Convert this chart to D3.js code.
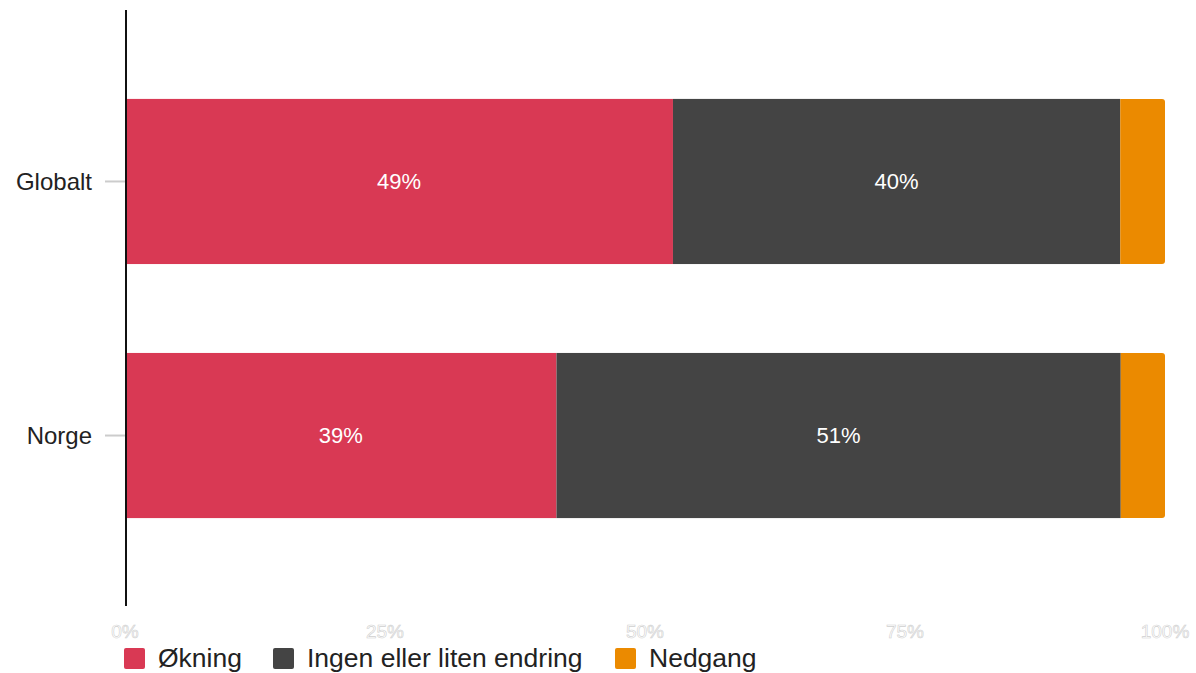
<!DOCTYPE html>
<html lang="no">
<head>
<meta charset="UTF-8">
<title>Stacked bars</title>
<script src="https://d3js.org/d3.v7.min.js"></script>
<style>
  body { margin: 0; background: #fff; }
  svg { display: block; font-family: "Liberation Sans", Arial, sans-serif; }
</style>
</head>
<body>
<svg id="chart" width="1196" height="673"></svg>
<script>
const categories = ["Globalt", "Norge"];
const seriesNames = ["Økning", "Ingen eller liten endring", "Nedgang"];
const okning = [49, 39];
const ingen = [40, 51];
const nedgang = [4, 4];
const tickLabels = ["0%", "25%", "50%", "75%", "100%"];
const colors = ["#d93954", "#444444", "#eb8a00"];

const svg = d3.select("#chart");
const rows = categories.map((c, i) => ({ cat: c, "Økning": okning[i], "Ingen eller liten endring": ingen[i], "Nedgang": nedgang[i] }));

const stack = d3.stack().keys(seriesNames).offset(d3.stackOffsetExpand);
const series = stack(rows);

const x = d3.scaleLinear().domain([0, 1]).range([125, 1165]);
const y = d3.scaleBand().domain(categories).range([10, 607]).padding(0.35);
const color = d3.scaleOrdinal().domain(seriesNames).range(colors);

// bars
series.forEach((s, si) => {
  const g = svg.append("g");
  s.forEach((d, i) => {
    const x0 = x(d[0]), x1 = x(d[1]);
    const y0 = y(categories[i]), h = y.bandwidth();
    if (si === series.length - 1) {
      const r = 3;
      g.append("path")
        .attr("d", `M${x0},${y0}H${x1 - r}Q${x1},${y0} ${x1},${y0 + r}V${y0 + h - r}Q${x1},${y0 + h} ${x1 - r},${y0 + h}H${x0}Z`)
        .attr("fill", color(s.key));
    } else {
      g.append("rect")
        .attr("x", x0).attr("y", y0)
        .attr("width", x1 - x0).attr("height", h)
        .attr("fill", color(s.key));
    }
    const raw = rows[i][s.key];
    if (raw >= 10) {
      g.append("text")
        .attr("x", (x0 + x1) / 2)
        .attr("y", y0 + h / 2)
        .attr("dy", "0.35em")
        .attr("text-anchor", "middle")
        .attr("fill", "#fff")
        .attr("font-size", 22)
        .text(raw + "%");
    }
  });
});

// y axis
svg.append("line")
  .attr("x1", 126).attr("x2", 126)
  .attr("y1", 10).attr("y2", 606)
  .attr("stroke", "#111").attr("stroke-width", 2);

categories.forEach(c => {
  const cy = y(c) + y.bandwidth() / 2;
  svg.append("line")
    .attr("x1", 105).attr("x2", 125)
    .attr("y1", cy).attr("y2", cy)
    .attr("stroke", "#ccc").attr("stroke-width", 2);
  svg.append("text")
    .attr("x", 92).attr("y", cy)
    .attr("dy", "0.35em")
    .attr("text-anchor", "end")
    .attr("font-size", 24)
    .attr("fill", "#222")
    .text(c);
});

// x tick labels
tickLabels.forEach((t, i) => {
  svg.append("text")
    .attr("x", x(i / 4))
    .attr("y", 631)
    .attr("dy", "0.35em")
    .attr("text-anchor", "middle")
    .attr("font-size", 19)
    .attr("fill", "#fff")
    .attr("stroke", "#cfcfcf")
    .attr("stroke-width", 0.6)
    .text(t);
});

// legend
const legendX = [124, 273, 615];
seriesNames.forEach((n, i) => {
  svg.append("rect")
    .attr("x", legendX[i]).attr("y", 648)
    .attr("width", 21).attr("height", 21)
    .attr("rx", 2)
    .attr("fill", colors[i]);
  svg.append("text")
    .attr("x", legendX[i] + 34).attr("y", 658)
    .attr("dy", "0.35em")
    .attr("font-size", 26.5)
    .attr("fill", "#222")
    .text(n);
});
</script>
</body>
</html>
